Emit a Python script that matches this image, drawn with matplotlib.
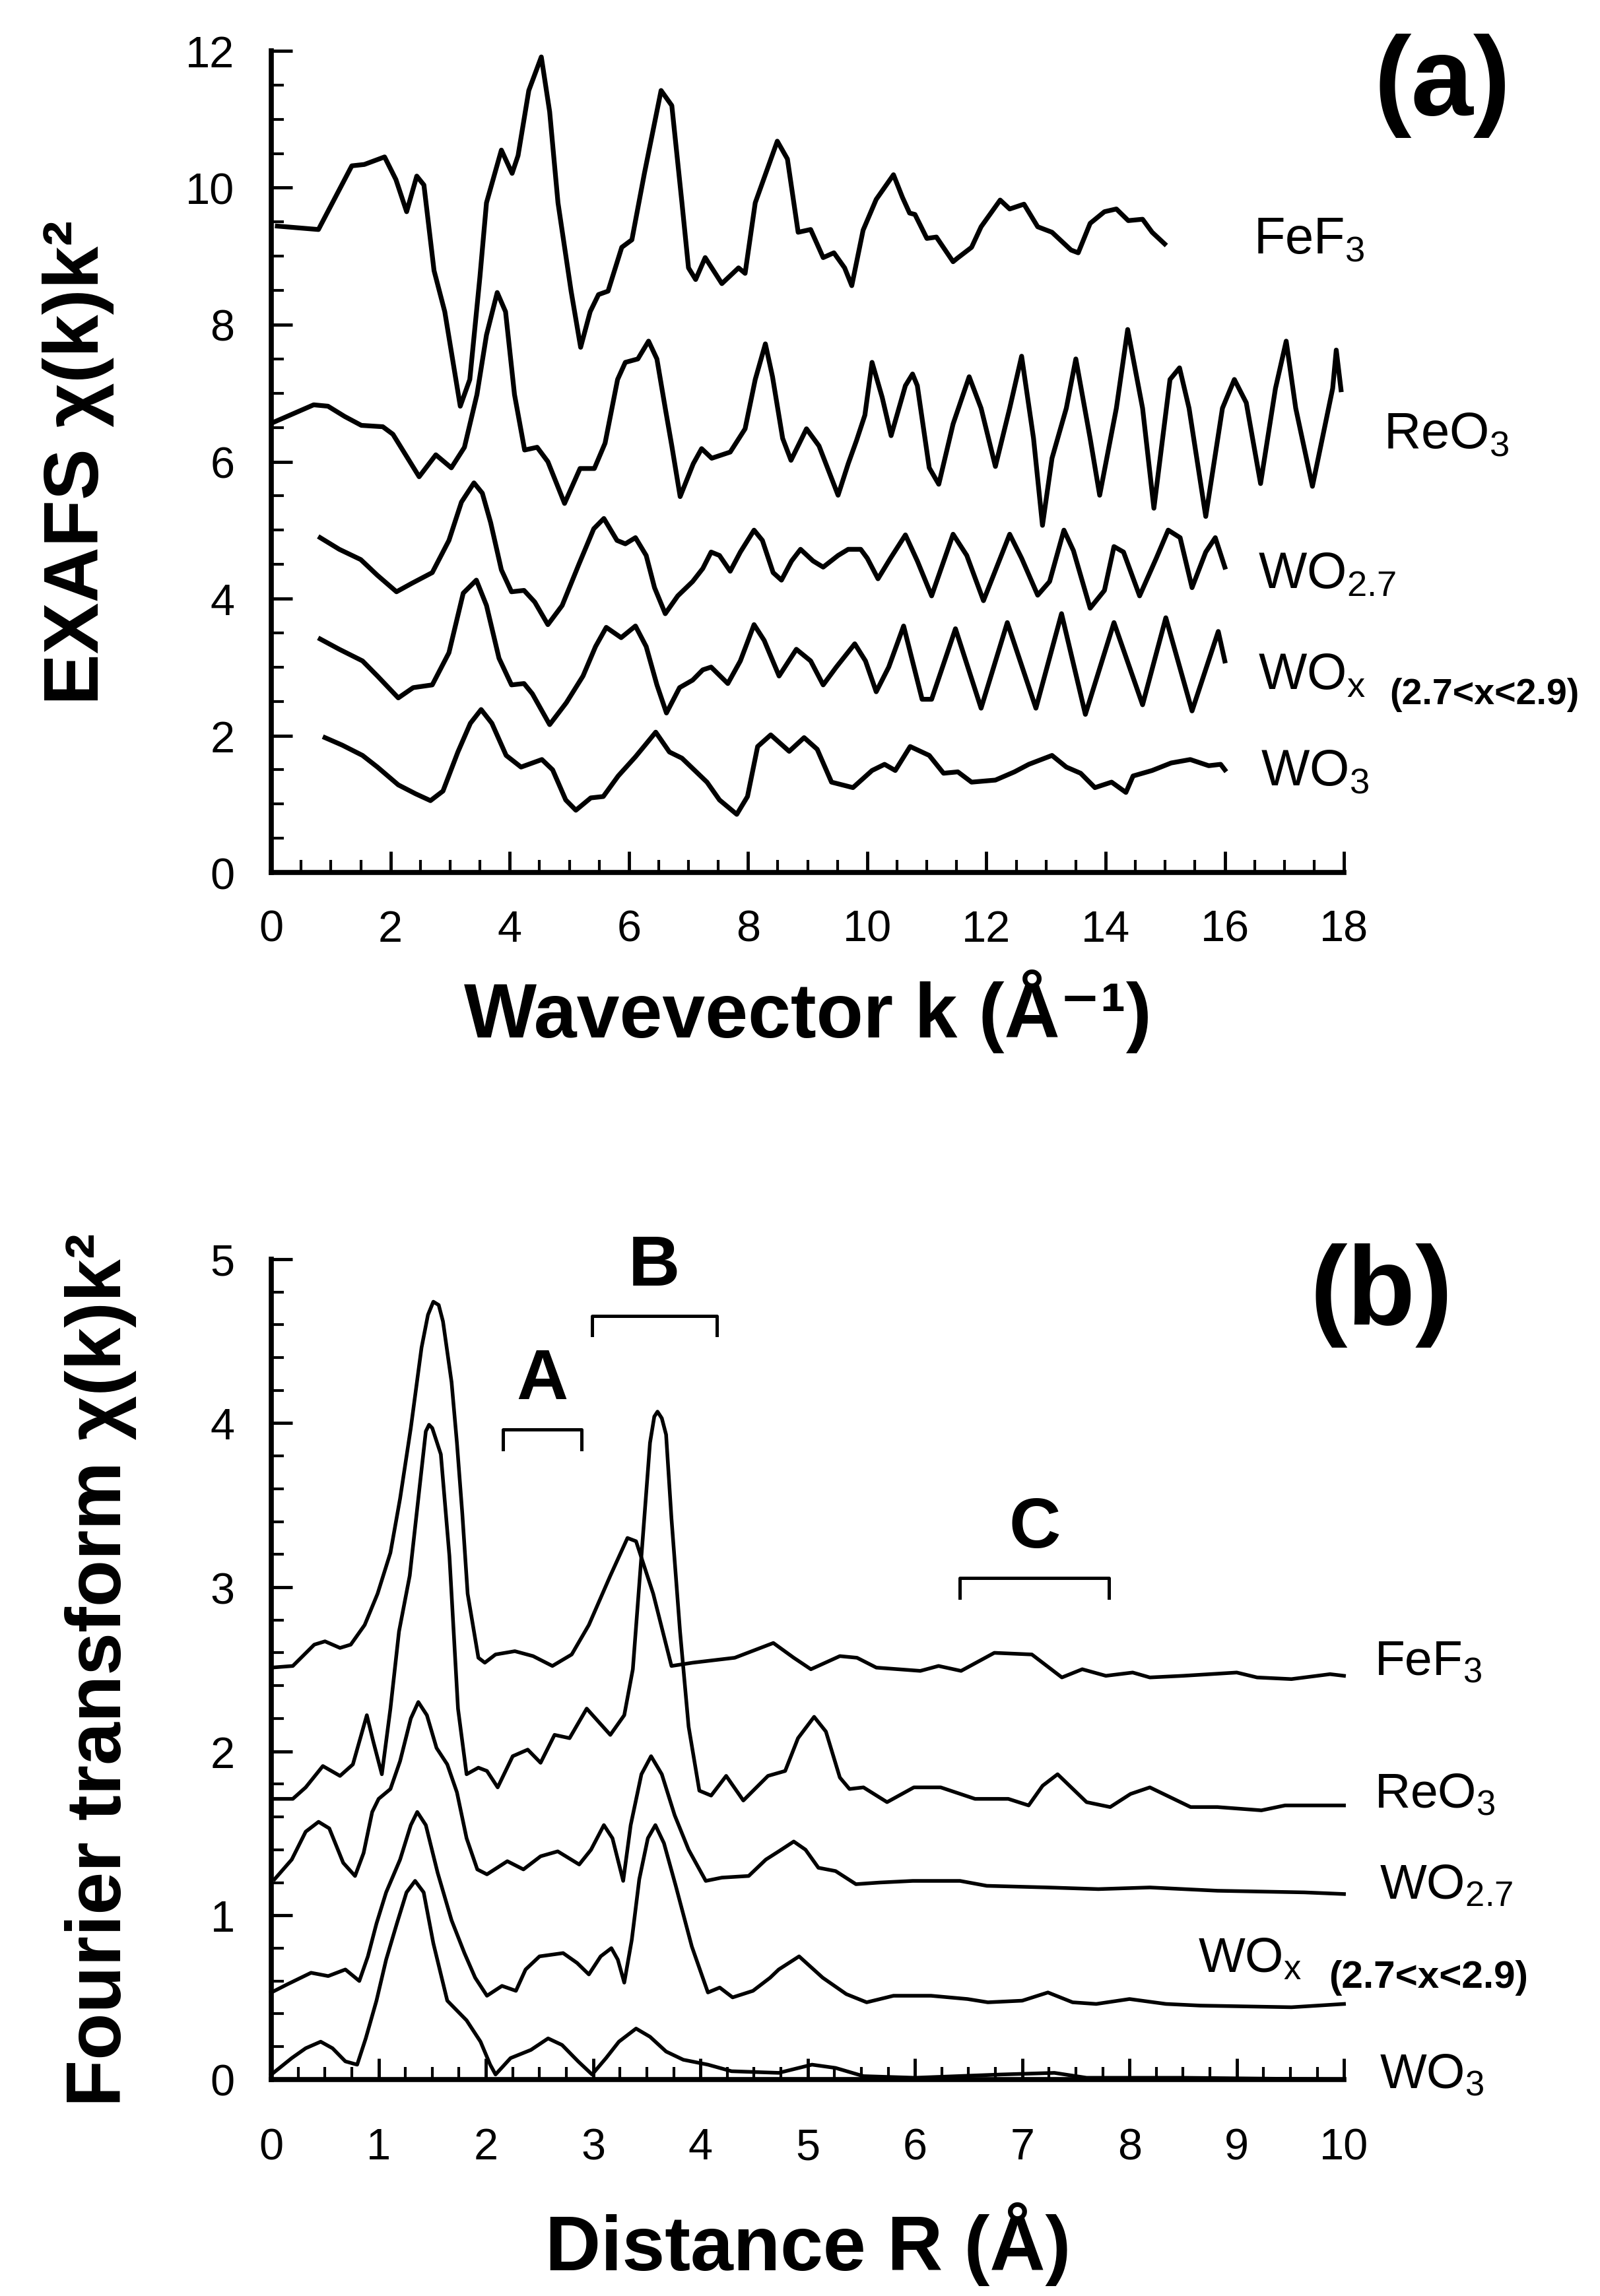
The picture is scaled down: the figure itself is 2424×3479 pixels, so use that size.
import matplotlib
matplotlib.use("Agg")
import matplotlib.pyplot as plt
from matplotlib.ticker import MultipleLocator

plt.rcParams['font.family'] = ['Liberation Sans', 'DejaVu Sans']
plt.rcParams['mathtext.fontset'] = 'custom'
plt.rcParams['mathtext.rm'] = 'Liberation Sans'
plt.rcParams['mathtext.it'] = 'Liberation Sans:italic'
plt.rcParams['mathtext.bf'] = 'Liberation Sans:bold'

# ---------------- (a) EXAFS chi(k)k^2, curves offset vertically ----------------
fef3_k = [0.10, 0.79, 1.35, 1.56, 1.90, 2.09, 2.27, 2.44, 2.56, 2.73, 2.91, 3.17, 3.33, 3.50,
          3.61, 3.86, 4.04, 4.14, 4.32, 4.53, 4.67, 4.81, 5.03, 5.19, 5.35, 5.49, 5.65, 5.88,
          6.05, 6.26, 6.54, 6.72, 6.89, 7.00, 7.12, 7.28, 7.42, 7.56, 7.84, 7.95, 8.12, 8.49,
          8.66, 8.84, 9.05, 9.26, 9.44, 9.62, 9.74, 9.93, 10.15, 10.44, 10.59, 10.71, 10.80,
          11.00, 11.16, 11.44, 11.51, 11.75, 11.91, 12.23, 12.39, 12.63, 12.86, 13.10, 13.42,
          13.54, 13.74, 13.98, 14.18, 14.38, 14.62, 14.78, 14.99]
fef3_chi = [9.44, 9.39, 10.32, 10.34, 10.45, 10.12, 9.65, 10.17, 10.04, 8.79, 8.19, 6.81, 7.20, 8.70,
            9.78, 10.55, 10.21, 10.47, 11.42, 11.91, 11.11, 9.78, 8.49, 7.67, 8.19, 8.44, 8.49, 9.13,
            9.24, 10.21, 11.42, 11.20, 9.78, 8.83, 8.66, 8.98, 8.79, 8.60, 8.83, 8.75, 9.78, 10.68,
            10.42, 9.35, 9.39, 8.98, 9.05, 8.83, 8.57, 9.38, 9.83, 10.19, 9.86, 9.63, 9.61,
            9.26, 9.28, 8.92, 8.97, 9.13, 9.43, 9.82, 9.69, 9.76, 9.43, 9.35, 9.09,
            9.05, 9.48, 9.65, 9.69, 9.52, 9.54, 9.35, 9.18]

reo3_k = [0.05, 0.71, 0.95, 1.23, 1.51, 1.87, 2.04, 2.48, 2.76, 3.02, 3.24, 3.45, 3.61, 3.79,
          3.93, 4.08, 4.25, 4.46, 4.64, 4.92, 5.18, 5.42, 5.60, 5.81, 5.94, 6.15, 6.33, 6.47,
          6.61, 6.72, 6.86, 7.08, 7.22, 7.39, 7.70, 7.95, 8.12, 8.29, 8.41, 8.58, 8.72, 8.98,
          9.19, 9.51, 9.68, 9.82, 9.96, 10.08, 10.25, 10.40, 10.64, 10.76, 10.84, 11.04, 11.20,
          11.44, 11.71, 11.91, 12.15, 12.39, 12.59, 12.79, 12.94, 13.10, 13.34, 13.50, 13.74,
          13.90, 14.18, 14.37, 14.62, 14.81, 15.08, 15.24, 15.40, 15.68, 15.96, 16.16, 16.36,
          16.60, 16.85, 17.03, 17.19, 17.47, 17.81, 17.87, 17.95]
reo3_chi = [6.58, 6.83, 6.81, 6.66, 6.53, 6.51, 6.40, 5.78, 6.10, 5.91, 6.21, 6.98, 7.85, 8.47,
            8.19, 6.98, 6.17, 6.21, 6.00, 5.39, 5.90, 5.90, 6.27, 7.20, 7.45, 7.50, 7.76, 7.50,
            6.78, 6.23, 5.49, 5.97, 6.19, 6.05, 6.14, 6.48, 7.20, 7.72, 7.24, 6.34, 6.02, 6.48,
            6.23, 5.51, 5.97, 6.31, 6.68, 7.45, 6.94, 6.38, 7.11, 7.28, 7.11, 5.91, 5.67,
            6.55, 7.24, 6.78, 5.93, 6.78, 7.54, 6.34, 5.07, 6.05, 6.78, 7.50, 6.34,
            5.51, 6.78, 7.93, 6.78, 5.32, 7.20, 7.37, 6.78, 5.20, 6.78, 7.20, 6.86,
            5.68, 7.07, 7.76, 6.78, 5.64, 7.07, 7.63, 7.05]

wo27_k = [0.82, 1.14, 1.50, 1.78, 2.10, 2.35, 2.70, 2.98, 3.19, 3.40, 3.54, 3.68, 3.86, 4.03,
          4.24, 4.42, 4.64, 4.88, 5.16, 5.41, 5.58, 5.80, 5.94, 6.11, 6.29, 6.43, 6.61, 6.82,
          7.07, 7.24, 7.38, 7.52, 7.70, 7.87, 8.10, 8.24, 8.42, 8.56, 8.73, 8.88, 9.09, 9.26,
          9.51, 9.68, 9.89, 10.00, 10.18, 10.39, 10.64, 10.84, 11.08, 11.44, 11.67, 11.95,
          12.39, 12.59, 12.86, 13.06, 13.30, 13.46, 13.74, 13.98, 14.14, 14.30, 14.57, 14.85,
          15.05, 15.25, 15.45, 15.68, 15.84, 16.00]
wo27_chi = [4.89, 4.72, 4.57, 4.34, 4.10, 4.22, 4.38, 4.85, 5.41, 5.69, 5.54, 5.11, 4.42, 4.10,
            4.12, 3.95, 3.62, 3.90, 4.50, 5.02, 5.17, 4.85, 4.80, 4.89, 4.63, 4.16, 3.78, 4.04,
            4.25, 4.44, 4.68, 4.63, 4.40, 4.68, 5.00, 4.85, 4.38, 4.27, 4.55, 4.72, 4.55, 4.46,
            4.63, 4.72, 4.72, 4.59, 4.29, 4.59, 4.93, 4.55, 4.04, 4.94, 4.63, 3.97,
            4.94, 4.59, 4.05, 4.25, 5.00, 4.70, 3.86, 4.12, 4.76, 4.68, 4.04, 4.59,
            5.00, 4.89, 4.16, 4.68, 4.89, 4.46]

wox_k = [0.82, 1.14, 1.53, 1.78, 2.13, 2.38, 2.70, 2.98, 3.22, 3.44, 3.61, 3.82, 4.03, 4.24,
         4.38, 4.67, 4.95, 5.23, 5.44, 5.62, 5.87, 6.11, 6.29, 6.47, 6.63, 6.85, 7.07, 7.24,
         7.38, 7.66, 7.87, 8.10, 8.27, 8.52, 8.81, 9.05, 9.26, 9.48, 9.79, 9.97, 10.15, 10.36,
         10.61, 10.92, 11.08, 11.48, 11.91, 12.35, 12.83, 13.26, 13.66, 14.14, 14.62, 15.01,
         15.45, 15.89, 16.00]
wox_chi = [3.41, 3.26, 3.09, 2.87, 2.55, 2.70, 2.74, 3.21, 4.08, 4.27, 3.90, 3.13, 2.74, 2.76,
           2.61, 2.16, 2.48, 2.87, 3.30, 3.58, 3.43, 3.60, 3.30, 2.74, 2.33, 2.70, 2.81, 2.96,
           3.00, 2.76, 3.09, 3.62, 3.39, 2.87, 3.26, 3.09, 2.74, 3.00, 3.34, 3.09, 2.64, 3.00,
           3.60, 2.53, 2.53, 3.56, 2.40, 3.65, 2.40, 3.78, 2.31, 3.65, 2.45, 3.72,
           2.36, 3.52, 3.09]

wo3_k = [0.90, 1.19, 1.53, 1.78, 2.13, 2.42, 2.67, 2.88, 3.13, 3.34, 3.52, 3.70, 3.94, 4.19,
         4.54, 4.72, 4.94, 5.11, 5.36, 5.57, 5.82, 6.11, 6.29, 6.45, 6.68, 6.89, 7.31, 7.52,
         7.81, 7.99, 8.16, 8.38, 8.69, 8.94, 9.16, 9.40, 9.76, 10.08, 10.29, 10.47, 10.72,
         11.04, 11.28, 11.52, 11.75, 12.15, 12.47, 12.71, 13.10, 13.34, 13.58, 13.82, 14.10,
         14.34, 14.46, 14.78, 15.10, 15.42, 15.73, 15.93, 16.00]
wo3_chi = [1.97, 1.86, 1.71, 1.54, 1.28, 1.15, 1.05, 1.19, 1.76, 2.18, 2.38, 2.18, 1.71, 1.54,
           1.65, 1.50, 1.06, 0.91, 1.09, 1.11, 1.41, 1.69, 1.88, 2.05, 1.76, 1.67, 1.32, 1.06,
           0.85, 1.11, 1.84, 2.01, 1.77, 1.97, 1.80, 1.32, 1.24, 1.49, 1.58, 1.49, 1.84,
           1.71, 1.45, 1.47, 1.32, 1.35, 1.47, 1.58, 1.71, 1.54, 1.45, 1.24, 1.32,
           1.17, 1.41, 1.49, 1.60, 1.65, 1.56, 1.58, 1.50]

# ---------------- (b) Fourier transform magnitude, offset vertically ----------------
ft_fef3_r = [0.00, 0.20, 0.40, 0.50, 0.64, 0.74, 0.87, 0.99, 1.11, 1.20, 1.30, 1.40, 1.46, 1.51,
             1.56, 1.60, 1.68, 1.73, 1.78, 1.83, 1.93, 1.99, 2.09, 2.27, 2.44, 2.62, 2.80, 2.96,
             3.16, 3.32, 3.40, 3.56, 3.73, 3.93, 4.32, 4.68, 4.87, 5.03, 5.30, 5.46, 5.64, 6.05,
             6.22, 6.43, 6.74, 7.09, 7.37, 7.56, 7.78, 8.03, 8.19, 8.50, 9.00, 9.19, 9.51, 9.87,
             10.00]
ft_fef3 = [2.51, 2.52, 2.65, 2.67, 2.63, 2.65, 2.77, 2.96, 3.21, 3.54, 3.97, 4.46, 4.66, 4.74,
           4.72, 4.62, 4.25, 3.88, 3.45, 2.96, 2.57, 2.54, 2.59, 2.61, 2.58, 2.52, 2.59, 2.77,
           3.07, 3.30, 3.28, 2.96, 2.52, 2.54, 2.57, 2.66, 2.57, 2.50, 2.58, 2.57, 2.51, 2.49,
           2.52, 2.49, 2.60, 2.59, 2.45, 2.50, 2.46, 2.48, 2.45, 2.46, 2.48, 2.45, 2.44, 2.47,
           2.46]

ft_reo3_r = [0.00, 0.20, 0.32, 0.48, 0.64, 0.76, 0.89, 0.95, 1.03, 1.11, 1.19, 1.29, 1.37, 1.44,
             1.47, 1.50, 1.58, 1.66, 1.74, 1.82, 1.93, 2.01, 2.11, 2.25, 2.39, 2.51, 2.64, 2.78,
             2.94, 3.16, 3.29, 3.37, 3.45, 3.53, 3.57, 3.60, 3.64, 3.68, 3.73, 3.81, 3.89, 3.99,
             4.10, 4.24, 4.40, 4.63, 4.79, 4.91, 5.06, 5.17, 5.30, 5.39, 5.52, 5.74, 5.99, 6.24,
             6.56, 6.87, 7.06, 7.19, 7.33, 7.60, 7.82, 8.01, 8.19, 8.57, 8.82, 9.23, 9.45, 9.63,
             10.00]
ft_reo3 = [1.71, 1.71, 1.78, 1.91, 1.85, 1.92, 2.22, 2.06, 1.86, 2.26, 2.73, 3.07, 3.54, 3.95,
           3.99, 3.97, 3.81, 3.19, 2.26, 1.86, 1.90, 1.88, 1.78, 1.97, 2.01, 1.93, 2.10, 2.08,
           2.26, 2.10, 2.22, 2.50, 3.19, 3.88, 4.04, 4.07, 4.03, 3.93, 3.42, 2.73, 2.15, 1.76,
           1.73, 1.85, 1.70, 1.85, 1.88, 2.08, 2.21, 2.12, 1.84, 1.77, 1.78, 1.69, 1.78, 1.78,
           1.71, 1.71, 1.67, 1.79, 1.86, 1.69, 1.66, 1.74, 1.78, 1.66, 1.66, 1.64, 1.67, 1.67,
           1.67]

ft_wo27_r = [0.03, 0.19, 0.32, 0.44, 0.54, 0.67, 0.78, 0.86, 0.94, 1.00, 1.11, 1.20, 1.30, 1.37,
             1.45, 1.54, 1.64, 1.73, 1.82, 1.92, 2.01, 2.20, 2.35, 2.51, 2.67, 2.87, 2.98, 3.10,
             3.18, 3.28, 3.35, 3.45, 3.54, 3.64, 3.76, 3.89, 4.05, 4.20, 4.45, 4.61, 4.73, 4.87,
             4.98, 5.10, 5.26, 5.45, 5.67, 5.98, 6.42, 6.67, 7.24, 7.71, 8.19, 8.82, 9.63, 10.00]
ft_wo27 = [1.22, 1.34, 1.51, 1.57, 1.53, 1.32, 1.24, 1.38, 1.63, 1.71, 1.77, 1.94, 2.20, 2.30,
           2.22, 2.02, 1.92, 1.75, 1.47, 1.28, 1.25, 1.33, 1.28, 1.36, 1.39, 1.31, 1.40, 1.55,
           1.47, 1.21, 1.55, 1.86, 1.97, 1.86, 1.61, 1.40, 1.21, 1.23, 1.24, 1.34, 1.39, 1.45,
           1.40, 1.29, 1.27, 1.19, 1.20, 1.21, 1.21, 1.18, 1.17, 1.16, 1.17, 1.15, 1.14, 1.13]

ft_wox_r = [0.00, 0.15, 0.37, 0.53, 0.69, 0.82, 0.90, 0.98, 1.07, 1.20, 1.30, 1.36, 1.44, 1.55,
            1.68, 1.80, 1.90, 2.01, 2.15, 2.28, 2.37, 2.50, 2.72, 2.85, 2.96, 3.07, 3.17, 3.23,
            3.29, 3.36, 3.43, 3.51, 3.58, 3.66, 3.77, 3.92, 4.07, 4.18, 4.30, 4.49, 4.65, 4.73,
            4.92, 5.14, 5.36, 5.55, 5.80, 6.15, 6.49, 6.68, 7.00, 7.24, 7.47, 7.69, 8.00, 8.34,
            8.66, 9.51, 10.00]
ft_wox = [0.53, 0.58, 0.65, 0.63, 0.67, 0.60, 0.75, 0.95, 1.14, 1.34, 1.55, 1.63, 1.55, 1.26,
          0.97, 0.77, 0.62, 0.51, 0.57, 0.54, 0.67, 0.75, 0.77, 0.71, 0.64, 0.75, 0.80, 0.73,
          0.59, 0.85, 1.22, 1.47, 1.55, 1.44, 1.18, 0.81, 0.53, 0.56, 0.50, 0.54, 0.62, 0.67,
          0.75, 0.62, 0.52, 0.47, 0.51, 0.51, 0.49, 0.47, 0.48, 0.53, 0.47, 0.46, 0.49, 0.46,
          0.45, 0.44, 0.46]

ft_wo3_r = [0.00, 0.19, 0.32, 0.46, 0.57, 0.69, 0.80, 0.88, 0.98, 1.07, 1.17, 1.26, 1.34, 1.42,
            1.51, 1.64, 1.82, 1.95, 2.04, 2.09, 2.23, 2.42, 2.58, 2.71, 2.86, 2.99, 3.12, 3.24,
            3.40, 3.53, 3.68, 3.84, 4.07, 4.29, 4.73, 5.04, 5.26, 5.52, 6.00, 6.80, 7.30, 7.60,
            8.50, 10.00]
ft_wo3 = [0.03, 0.13, 0.19, 0.23, 0.19, 0.11, 0.09, 0.25, 0.48, 0.73, 0.95, 1.14, 1.21, 1.14,
          0.83, 0.48, 0.36, 0.23, 0.09, 0.03, 0.13, 0.18, 0.25, 0.21, 0.11, 0.03, 0.13, 0.23,
          0.31, 0.26, 0.17, 0.12, 0.09, 0.05, 0.04, 0.09, 0.07, 0.02, 0.01, 0.03, 0.04, 0.01,
          0.01, 0.00]

# bracket spans over shells A, B, C (R range, height)
shell_names = ['A', 'B', 'C']
shell_lo = [2.16, 2.99, 6.42]
shell_hi = [2.89, 4.15, 7.81]
shell_top = [3.96, 4.655, 3.055]


def style_axes(ax, xmax, ymax, xmaj, xmin, ymaj, ymin, xpad):
    ax.set_xlim(0, xmax)
    ax.set_ylim(0, ymax)
    ax.spines['top'].set_visible(False)
    ax.spines['right'].set_visible(False)
    for s in ['left', 'bottom']:
        ax.spines[s].set_linewidth(5.5)
    ax.xaxis.set_major_locator(MultipleLocator(xmaj))
    ax.xaxis.set_minor_locator(MultipleLocator(xmin))
    ax.yaxis.set_major_locator(MultipleLocator(ymaj))
    ax.yaxis.set_minor_locator(MultipleLocator(ymin))
    ax.tick_params(which='major', direction='in', length=23, width=3.5, labelsize=48, pad=40)
    ax.tick_params(axis='x', which='major', pad=xpad)
    ax.tick_params(which='minor', direction='in', length=14, width=3)


fig = plt.figure(figsize=(24.24, 34.8), dpi=100)

# ---- panel (a)
ax_a = fig.add_axes([0.1696, 0.6198, 0.6704, 0.3578])
style_axes(ax_a, 18, 12, 2, 0.5, 2, 0.5, 40)
for kk, cc in [(fef3_k, fef3_chi), (reo3_k, reo3_chi), (wo27_k, wo27_chi),
               (wox_k, wox_chi), (wo3_k, wo3_chi)]:
    ax_a.plot(kk, cc, color='black', lw=5.2, solid_joinstyle='round', clip_on=False)

ax_a.set_xlabel('Wavevector k (Å⁻¹)', fontsize=84, fontweight='bold', va='center')
ax_a.xaxis.set_label_coords(0.5, -0.168)
ax_a.set_ylabel('EXAFS χ(k)k²', fontsize=84, fontweight='bold', va='center')
ax_a.yaxis.set_label_coords(-0.180, 0.5)

lab_kw = dict(fontsize=56, ha='left', va='baseline', clip_on=False)
ax_a.text(16.48, 9.05, 'FeF$_3$', **lab_kw)
ax_a.text(18.66, 6.21, 'ReO$_3$', **lab_kw)
ax_a.text(16.56, 4.16, 'WO$_{2.7}$', **lab_kw)
ax_a.text(16.56, 2.68, 'WO$_\\mathrm{x}$', **lab_kw)
ax_a.text(18.77, 2.47, '(2.7<x<2.9)', fontsize=40, fontweight='bold', ha='left',
          va='baseline', clip_on=False)
ax_a.text(16.60, 1.28, 'WO$_3$', **lab_kw)
ax_a.text(19.65, 11.50, '(a)', fontsize=122, fontweight='bold', ha='center', va='center',
          clip_on=False)

# ---- panel (b)
ax_b = fig.add_axes([0.1696, 0.0943, 0.6704, 0.3572])
style_axes(ax_b, 10, 5, 1, 0.25, 1, 0.2, 52)
for rr, ff in [(ft_fef3_r, ft_fef3), (ft_reo3_r, ft_reo3), (ft_wo27_r, ft_wo27),
               (ft_wox_r, ft_wox), (ft_wo3_r, ft_wo3)]:
    ax_b.plot(rr, ff, color='black', lw=4.0, solid_joinstyle='round', clip_on=False)

ax_b.set_xlabel('Distance R (Å)', fontsize=84, fontweight='bold', va='center')
ax_b.xaxis.set_label_coords(0.5, -0.200)
ax_b.set_ylabel('Fourier transform χ(k)k²', fontsize=84, fontweight='bold', va='center')
ax_b.yaxis.set_label_coords(-0.159, 0.5)

lab_kw_b = dict(fontsize=54, ha='left', va='baseline', clip_on=False)
ax_b.text(10.28, 2.47, 'FeF$_3$', **lab_kw_b)
ax_b.text(10.28, 1.66, 'ReO$_3$', **lab_kw_b)
ax_b.text(10.33, 1.106, 'WO$_{2.7}$', **lab_kw_b)
ax_b.text(8.64, 0.656, 'WO$_\\mathrm{x}$', **lab_kw_b)
ax_b.text(9.86, 0.563, '(2.7<x<2.9)', fontsize=42, fontweight='bold', ha='left',
          va='baseline', clip_on=False)
ax_b.text(10.33, -0.05, 'WO$_3$', **lab_kw_b)
ax_b.text(10.35, 4.78, '(b)', fontsize=122, fontweight='bold', ha='center', va='center',
          clip_on=False)

# shell brackets
for name, lo, hi, top in zip(shell_names, shell_lo, shell_hi, shell_top):
    ax_b.plot([lo, lo, hi, hi], [top - 0.12, top, top, top - 0.12], color='black', lw=3.6)
    ax_b.text((lo + hi) / 2, top + 0.1, name, fontsize=78, fontweight='bold',
              ha='center', va='bottom')

fig.savefig('out.png', dpi=100, facecolor='white')
